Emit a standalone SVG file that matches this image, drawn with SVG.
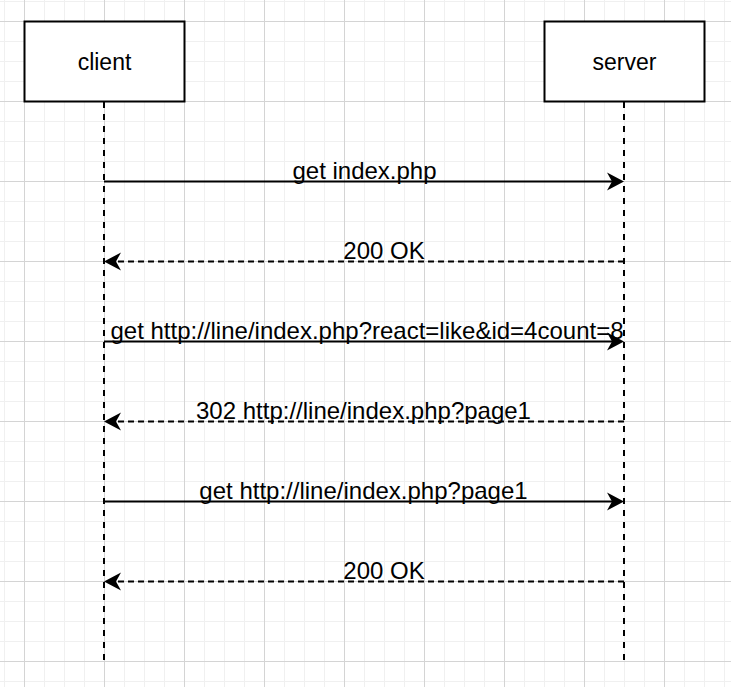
<svg xmlns="http://www.w3.org/2000/svg" width="731" height="687" viewBox="0 0 731 687">
  <style>
    .box { fill: #ffffff; stroke: #000000; stroke-width: 2; }
    .life { fill: none; stroke: #000000; stroke-width: 2; stroke-dasharray: 6 6; }
    .msg { fill: none; stroke: #000000; stroke-width: 2; }
    .reply { fill: none; stroke: #000000; stroke-width: 2; stroke-dasharray: 6 4; }
    .name { font-family: "Liberation Sans", Arial, sans-serif; font-size: 23px; fill: #000000; text-anchor: middle; }
    .label { font-family: "Liberation Sans", Arial, sans-serif; font-size: 24px; fill: #000000; text-anchor: middle; }
  </style>
  <defs>
    <pattern id="gridMinor" x="4" y="1" width="20" height="20" patternUnits="userSpaceOnUse">
      <path d="M0.5 0 V20 M0 0.5 H20" fill="none" stroke="#f0f0f0" stroke-width="1"/>
    </pattern>
    <pattern id="gridMajor" x="24" y="21" width="80" height="80" patternUnits="userSpaceOnUse">
      <path d="M0.5 0 V80 M0 0.5 H80" fill="none" stroke="#d4d4d4" stroke-width="1"/>
    </pattern>
    <marker id="head" markerUnits="userSpaceOnUse" markerWidth="20" markerHeight="20" viewBox="0 -10 20 20" refX="5" refY="0" orient="auto" overflow="visible">
      <path d="M0 -9 L17 0 L0 9 L5 0 Z" fill="#000000" stroke="none"/>
    </marker>
  </defs>

  <!-- page background with grid -->
  <rect x="0" y="0" width="731" height="687" fill="#ffffff"/>
  <rect x="0" y="0" width="731" height="687" fill="url(#gridMinor)"/>
  <rect x="0" y="0" width="731" height="687" fill="url(#gridMajor)"/>

  <!-- lifelines and participants -->
  <g id="client">
    <line class="life" x1="104" y1="102" x2="104" y2="661"/>
    <rect class="box" x="24.5" y="21.5" width="160" height="80"/>
    <text class="name" x="104.5" y="70">client</text>
  </g>
  <g id="server">
    <line class="life" x1="624" y1="102" x2="624" y2="661"/>
    <rect class="box" x="544.5" y="21.5" width="160" height="80"/>
    <text class="name" x="624.5" y="70">server</text>
  </g>

  <!-- messages -->
  <g id="connectors">
    <path class="msg" d="M104 181.5 H612" marker-end="url(#head)"/>
    <path class="reply" d="M624 261.5 H116" marker-end="url(#head)"/>
    <path class="msg" d="M104 341.5 H612" marker-end="url(#head)"/>
    <path class="reply" d="M624 421.5 H116" marker-end="url(#head)"/>
    <path class="msg" d="M104 501.5 H612" marker-end="url(#head)"/>
    <path class="reply" d="M624 581.5 H116" marker-end="url(#head)"/>
  </g>

  <g id="labels">
    <text class="label" x="364.5" y="178.5">get index.php</text>
    <text class="label" x="384" y="259">200 OK</text>
    <text class="label" x="367" y="338.5">get http://line/index.php?react=like&amp;id=4count=8</text>
    <text class="label" x="363.5" y="418.5">302 http://line/index.php?page1</text>
    <text class="label" x="363.5" y="498.5">get http://line/index.php?page1</text>
    <text class="label" x="384" y="579">200 OK</text>
  </g>
</svg>
